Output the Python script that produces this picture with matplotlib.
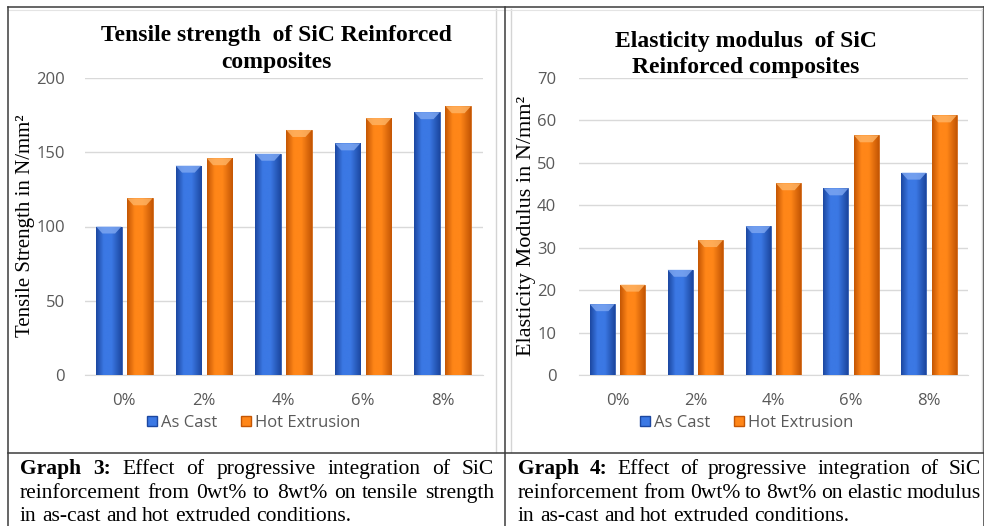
import numpy as np
import matplotlib.pyplot as plt
from matplotlib.colors import LinearSegmentedColormap
from matplotlib.lines import Line2D
from matplotlib.patches import Polygon

W, H = 984, 526

# data
categories = ['0%', '2%', '4%', '6%', '8%']
series_names = ['As Cast', 'Hot Extrusion']
tensile_as_cast = [100, 141, 149, 156, 177]
tensile_hot = [119, 146, 165, 173, 181]
modulus_as_cast = [16.7, 24.8, 35.1, 44.0, 47.7]
modulus_hot = [21.3, 31.8, 45.2, 56.5, 61.2]

caption_left = [
    "Graph 3: Effect of progressive integration of SiC",
    "reinforcement from 0wt% to 8wt% on tensile strength",
    "in as-cast and hot extruded conditions.",
]
caption_right = [
    "Graph 4: Effect of progressive integration of SiC",
    "reinforcement from 0wt% to 8wt% on elastic modulus",
    "in as-cast and hot extruded conditions.",
]

# dark edge, light centre, bevel highlight
BLUE = ('#1c47a0', '#3b78e4', '#7fa8f2')
ORANGE = ('#c45604', '#ff8618', '#ffb566')
TICK = dict(family='Open Sans', size=12, color='#595959')
SERIF = 'Liberation Serif'

fig = plt.figure(figsize=(W / 100, H / 100), dpi=100)


def axes_px(l, t, r, b):
    return fig.add_axes([l / W, 1 - b / H, (r - l) / W, (b - t) / H])


def hline(x0, x1, y, color, lw):
    fig.add_artist(Line2D([x0 / W, x1 / W], [1 - y / H, 1 - y / H],
                          transform=fig.transFigure, color=color, lw=lw))


def vline(x, y0, y1, color, lw):
    fig.add_artist(Line2D([x / W, x / W], [1 - y0 / H, 1 - y1 / H],
                          transform=fig.transFigure, color=color, lw=lw))


def shade(ax, bars, cols):
    cmap = LinearSegmentedColormap.from_list(
        'g', [(0, cols[0]), (0.3, cols[1]), (0.6, cols[1]), (1, cols[0])])
    grad = np.linspace(0, 1, 64)[None, :]
    bb = ax.get_position()
    y0, y1 = ax.get_ylim()
    dy = 7 * (y1 - y0) / (bb.height * H)
    for b in bars:
        x0, w, h = b.get_x(), b.get_width(), b.get_height()
        im = ax.imshow(grad, extent=(x0, x0 + w, 0, h), aspect='auto',
                       cmap=cmap, zorder=3.5, interpolation='bilinear')
        im.set_clip_path(b)
        ax.add_patch(Polygon([(x0, h), (x0 + w, h), (x0 + w * 0.75, h - dy),
                              (x0 + w * 0.25, h - dy)], closed=True,
                             color=cols[2], alpha=0.8, lw=0, zorder=4))


def draw_chart(ax, as_cast, hot, ymax, step, pad):
    x = np.arange(len(categories))
    ax.set_ylim(0, ymax)
    ax.set_xlim(-0.5, len(categories) - 0.5)
    for vals, off, cols in ((as_cast, -0.195, BLUE), (hot, 0.195, ORANGE)):
        bars = ax.bar(x + off, vals, width=0.32, color=cols[1],
                      edgecolor=cols[0], linewidth=0.5, zorder=3)
        shade(ax, bars, cols)
    ax.set_xlim(-0.5, len(categories) - 0.5)
    ax.set_ylim(0, ymax)
    ax.set_yticks(np.arange(0, ymax + 1, step))
    ax.set_xticks(x, categories)
    ax.yaxis.grid(True, color='#d9d9d9', lw=1)
    ax.set_axisbelow(True)
    for s in ['top', 'right', 'left']:
        ax.spines[s].set_visible(False)
    ax.spines['bottom'].set_color('#d9d9d9')
    ax.tick_params(length=0)
    ax.tick_params(axis='y', pad=pad)
    ax.tick_params(axis='x', pad=13)
    for lab in ax.get_xticklabels() + ax.get_yticklabels():
        lab.set(**TICK)


def legend(cx):
    handles = [Line2D([], [], marker='s', ls='', color=c[1], markeredgecolor=c[0],
                      markersize=7, label=n) for c, n in zip((BLUE, ORANGE), series_names)]
    fig.legend(handles=handles, loc='center', bbox_to_anchor=(cx / W, 1 - 423 / H),
               ncol=2, frameon=False, handletextpad=0.15, columnspacing=1.3,
               handlelength=0.8, prop=dict(family='Open Sans', size=12),
               labelcolor='#595959')


def caption(lines, left, right, baselines, size=15.5):
    # justified paragraph: every line but the last is spread to the full width
    r = fig.canvas.get_renderer()
    space = 0.25 * size * 100 / 72
    for i, (line, yb) in enumerate(zip(lines, baselines)):
        words = line.split(' ')
        texts = []
        for j, wd in enumerate(words):
            bold = line.startswith('Graph') and i == 0 and j < 2
            texts.append(fig.text(0, 1 - yb / H, wd, family=SERIF, size=size,
                                  weight='bold' if bold else 'normal', va='baseline'))
        widths = [t.get_window_extent(r).width for t in texts]
        if i < len(lines) - 1:
            gap = (right - left - sum(widths)) / (len(words) - 1)
        else:
            gap = space
        xpos = left
        for t, w in zip(texts, widths):
            t.set_x(xpos / W)
            xpos += w + gap


# left chart
ax1 = axes_px(84.5, 78, 482.5, 375)
draw_chart(ax1, tensile_as_cast, tensile_hot, 200, 50, 14)
fig.text(276.5 / W, 1 - 41.5 / H, 'Tensile strength  of SiC Reinforced',
         family=SERIF, weight='bold', size=17, ha='center', va='baseline')
fig.text(276.5 / W, 1 - 68 / H, 'composites',
         family=SERIF, weight='bold', size=17, ha='center', va='baseline')
fig.text(26 / W, 1 - 226 / H, 'Tensile Strength in N/mm²', family=SERIF,
         size=15, rotation=90, ha='center', va='center')
legend(253)

# right chart
ax2 = axes_px(578.5, 78, 968, 375)
draw_chart(ax2, modulus_as_cast, modulus_hot, 70, 10, 16)
fig.text(746 / W, 1 - 46.5 / H, 'Elasticity modulus  of SiC',
         family=SERIF, weight='bold', size=17, ha='center', va='baseline')
fig.text(746 / W, 1 - 73 / H, 'Reinforced composites',
         family=SERIF, weight='bold', size=17, ha='center', va='baseline')
fig.text(527 / W, 1 - 226 / H, 'Elasticity Modulus in N/mm²', family=SERIF,
         size=16, rotation=90, ha='center', va='center')
legend(746)

# table frame and chart borders
for x in (496.5, 511, 981.5):
    vline(x, 9, 452, '#d4d4d4', 1)
hline(8, 983, 9.5, '#e4e4e4', 0.8)
hline(8, 984, 7, '#3c3c3c', 1.1)
hline(8, 984, 453, '#3c3c3c', 1.1)
vline(8, 7, 526, '#3c3c3c', 1.1)
vline(505, 7, 526, '#3c3c3c', 1.1)
vline(983.5, 7, 526, '#3c3c3c', 1.1)

caption(caption_left, 20, 494, [474, 498, 521])
caption(caption_right, 518, 981, [474, 498, 521])

fig.savefig('out.png', dpi=100)
